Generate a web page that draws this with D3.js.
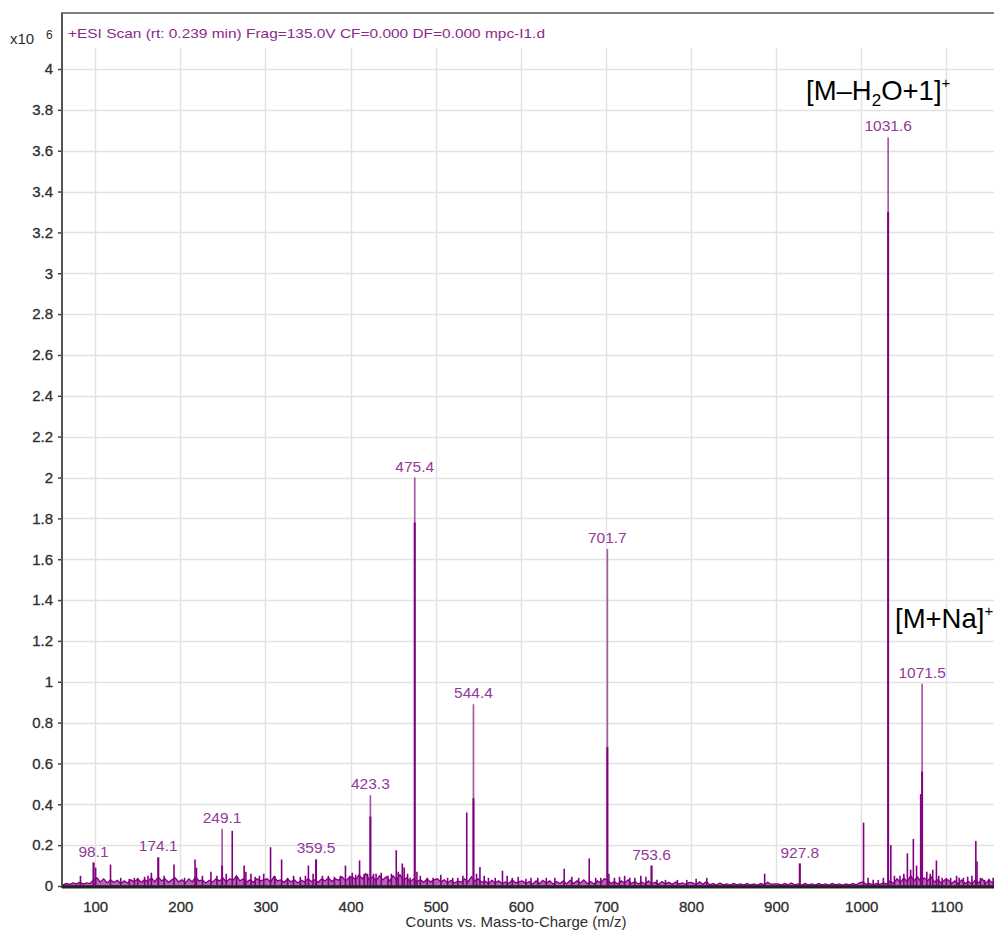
<!DOCTYPE html>
<html>
<head>
<meta charset="utf-8">
<script src="https://cdn.jsdelivr.net/npm/d3@7"></script>
<style>
  body { margin: 0; background: #fff; }
  svg text { font-family: "Liberation Sans", Arial, sans-serif; }
</style>
</head>
<body>
<svg id="chart" width="994" height="931"></svg>
<script>
// ---- Spectrum data (counts in units of 10^6) ----
// Labelled peaks: apex and the height of the dense (profile) core of each peak
const labelMz     = [98.1, 174.1, 249.1, 359.5, 423.3, 475.4, 544.4, 701.7, 753.6, 927.8, 1031.6, 1071.5];
const labelCounts = [0.115, 0.14, 0.28, 0.13, 0.445, 2.0, 0.89, 1.65, 0.10, 0.11, 3.665, 0.99];
const labelCore   = [0.115, 0.14, 0.10, 0.13, 0.34, 1.78, 0.43, 0.68, 0.10, 0.11, 3.3, 0.56];

// Unlabelled peaks: [m/z, counts]
const minorPeaks = [
  [82.7, 0.05], [100.5, 0.09], [118, 0.105], [130, 0.04], [140, 0.035], [146, 0.04], [150, 0.04],
  [158, 0.045], [162, 0.05], [166, 0.065], [181, 0.05], [192.6, 0.105], [205, 0.04], [217.3, 0.13],
  [219, 0.09], [226, 0.05], [236, 0.07], [243, 0.05], [254, 0.06], [261, 0.27], [266, 0.05],
  [275, 0.10], [277, 0.07], [283, 0.06], [288, 0.045], [293, 0.05], [298, 0.06], [306, 0.19],
  [311, 0.05], [319, 0.13], [326, 0.04], [333, 0.05], [341, 0.045], [347, 0.05], [350.5, 0.10],
  [356, 0.06], [367, 0.05], [374, 0.05], [381, 0.045], [388, 0.05], [394, 0.10], [399, 0.05],
  [402, 0.065], [406, 0.055], [410.6, 0.125], [416, 0.06], [420, 0.06], [427, 0.06], [430, 0.06],
  [436, 0.065], [444, 0.05], [448, 0.06], [453.7, 0.175], [456, 0.07], [460.8, 0.11], [463, 0.09],
  [467, 0.06], [470, 0.04], [478, 0.07], [482, 0.05], [490, 0.04], [497, 0.04], [506, 0.055],
  [514, 0.04], [520, 0.04], [526, 0.04], [532, 0.05], [536.5, 0.36], [548, 0.06], [552, 0.093],
  [557, 0.05], [562, 0.04], [570, 0.04], [578.5, 0.075], [584, 0.05], [590, 0.04], [597, 0.045],
  [606, 0.035], [612, 0.04], [620, 0.04], [630, 0.04], [640, 0.04], [651, 0.085], [660, 0.045],
  [668, 0.04], [680.4, 0.135], [688, 0.04], [694, 0.04], [703.5, 0.06], [710, 0.04], [716, 0.045],
  [722, 0.05], [728, 0.04], [734, 0.04], [741, 0.05], [747, 0.045], [760, 0.03], [770, 0.03],
  [784, 0.03], [795, 0.03], [806, 0.035], [818.5, 0.04], [886.5, 0.06], [1002.7, 0.31], [1008, 0.04],
  [1014, 0.03], [1020, 0.03], [1026, 0.04], [1034.7, 0.20], [1039, 0.05], [1045.5, 0.05], [1050, 0.06],
  [1054.2, 0.16], [1058, 0.08], [1061.2, 0.23], [1065, 0.10], [1069.8, 0.45], [1077, 0.07],
  [1081, 0.06], [1084, 0.08], [1088.3, 0.125], [1091, 0.05], [1095, 0.04], [1100, 0.04], [1105, 0.04],
  [1112, 0.05], [1115, 0.04], [1120, 0.04], [1125, 0.045], [1130, 0.05], [1134.6, 0.22], [1136, 0.12],
  [1140, 0.04], [1145, 0.03], [1150, 0.035], [1155, 0.04]
];

// Noise floor, sampled every 4 m/z starting at m/z 62
const floorStart = 62;
const floorStep = 4;
const floorCounts = [
  0.006,0.012,0.008,0.015,0.01,0.018,0.01,0.015,0.012,0.03,
  0.04,0.02,0.035,0.015,0.03,0.018,0.028,0.012,0.025,0.015,0.03,0.02,0.035,0.018,0.03,0.022,0.04,0.02,0.045,0.025,0.035,0.018,0.03,0.04,0.02,
  0.03,0.015,0.035,0.02,0.045,0.025,0.03,0.015,0.028,0.02,0.035,0.025,0.04,0.02,0.035,0.028,0.05,0.025,0.035,0.02,0.03,0.018,0.035,0.025,0.03,
  0.035,0.02,0.045,0.025,0.03,0.018,0.035,0.02,0.03,0.015,0.028,0.02,0.035,0.022,0.03,0.018,0.035,0.025,0.04,0.022,0.035,0.028,0.045,0.025,0.04,
  0.045,0.03,0.055,0.035,0.06,0.03,0.045,0.025,0.05,0.03,0.045,0.025,0.05,0.03,0.055,0.03,0.04,0.02,0.035,0.022,0.03,0.018,0.035,0.02,0.03,
  0.035,0.02,0.03,0.015,0.028,0.015,0.025,0.018,0.035,0.02,0.045,0.025,0.035,0.018,0.025,0.012,0.028,0.015,0.025,0.012,0.02,0.012,0.03,0.015,0.022,
  0.025,0.012,0.022,0.01,0.025,0.012,0.028,0.015,0.025,0.01,0.022,0.012,0.025,0.01,0.028,0.012,0.025,0.015,0.03,0.012,0.022,0.01,0.025,0.015,0.035,
  0.03,0.012,0.022,0.01,0.025,0.015,0.03,0.012,0.022,0.01,0.02,0.01,0.025,0.01,0.018,0.008,0.022,0.01,0.018,0.008,0.02,0.01,0.015,0.008,0.018,
  0.015,0.006,0.02,0.008,0.022,0.006,0.012,0.005,0.015,0.006,0.01,0.004,0.012,0.006,0.01,0.004,0.012,0.005,0.01,0.004,0.012,0.006,0.018,0.008,0.01,
  0.01,0.005,0.012,0.006,0.015,0.005,0.01,0.004,0.012,0.006,0.01,0.004,0.012,0.006,0.01,0.004,0.012,0.006,0.01,0.004,0.01,0.005,0.012,0.006,0.015,
  0.02,0.008,0.012,0.006,0.012,0.008,0.015,0.01,0.025,0.012,0.035,0.018,0.04,0.02,0.05,0.025,0.045,0.02,0.04,0.025,0.045,0.02,0.03,0.015,0.03,
  0.03,0.012,0.025,0.01,0.03,0.012,0.022,0.01,0.03,0.015,0.035,0.012,0.03,0.015,0.035
];

// Axis ticks
const xTicks = [100, 200, 300, 400, 500, 600, 700, 800, 900, 1000, 1100];
const yTicks = [0, 0.2, 0.4, 0.6, 0.8, 1, 1.2, 1.4, 1.6, 1.8, 2, 2.2, 2.4, 2.6, 2.8, 3, 3.2, 3.4, 3.6, 3.8, 4];

// Ion annotations
const ionNotes = [
  { base: "[M\u2013H", sub: "2", rest: "O+1]", sup: "+", x: 806, y: 100 },
  { base: "[M+Na]", sub: "", rest: "", sup: "+", x: 895, y: 628 }
];

// ---- Layout ----
const svg = d3.select("#chart");
const plotLeft = 62, plotRight = 1000, plotTop = 13, plotBottom = 886;
const purple = "#800080";
const lightPurple = "#a65aa6";
const inkGray = "#2e2e2e";

const x = d3.scaleLinear().domain([61, 1163]).range([plotLeft, plotRight]);
const y = d3.scaleLinear().domain([0, 4]).range([plotBottom, 69]);

svg.append("defs").append("clipPath").attr("id", "plotClip")
  .append("rect").attr("x", plotLeft).attr("y", plotTop)
  .attr("width", plotRight - plotLeft).attr("height", plotBottom - plotTop + 1);

// Grid
const grid = svg.append("g");
grid.selectAll("line.v").data(xTicks).join("line")
  .attr("class", "v")
  .attr("x1", d => Math.round(x(d)) + 0.5).attr("x2", d => Math.round(x(d)) + 0.5)
  .attr("y1", 48).attr("y2", plotBottom)
  .attr("stroke", "#e2e2e2").attr("stroke-width", 1.4);
grid.selectAll("line.h").data(yTicks.slice(1)).join("line")
  .attr("class", "h")
  .attr("x1", plotLeft).attr("x2", plotRight)
  .attr("y1", d => Math.round(y(d)) + 0.5).attr("y2", d => Math.round(y(d)) + 0.5)
  .attr("stroke", "#e2e2e2").attr("stroke-width", 1.4);

const plot = svg.append("g").attr("clip-path", "url(#plotClip)");

// Noise floor
const floorPts = floorCounts.map((c, i) => [floorStart + i * floorStep, c]);
plot.append("path")
  .datum(floorPts)
  .attr("d", d3.area().x(d => x(d[0])).y0(y(0)).y1(d => y(d[1])))
  .attr("fill", purple).attr("fill-opacity", 0.6)
  .attr("stroke", purple).attr("stroke-width", 1.3).attr("stroke-linejoin", "miter");

// Unlabelled peaks
plot.selectAll("line.minor").data(minorPeaks).join("line")
  .attr("class", "minor")
  .attr("x1", d => x(d[0])).attr("x2", d => x(d[0]))
  .attr("y1", y(0)).attr("y2", d => y(d[1]))
  .attr("stroke", purple).attr("stroke-width", 1.6);

// Labelled peaks: light apex line with a darker core
const major = labelMz.map((m, i) => ({ mz: m, c: labelCounts[i], core: labelCore[i] }));
plot.selectAll("line.apex").data(major).join("line")
  .attr("class", "apex")
  .attr("x1", d => x(d.mz)).attr("x2", d => x(d.mz))
  .attr("y1", y(0)).attr("y2", d => y(d.c))
  .attr("stroke", lightPurple).attr("stroke-width", 1.7);
plot.selectAll("line.core").data(major).join("line")
  .attr("class", "core")
  .attr("x1", d => x(d.mz)).attr("x2", d => x(d.mz))
  .attr("y1", y(0)).attr("y2", d => y(d.core))
  .attr("stroke", purple).attr("stroke-width", 2);

// Peak labels
svg.selectAll("text.plabel").data(major).join("text")
  .attr("class", "plabel")
  .attr("x", d => x(d.mz)).attr("y", d => y(d.c) - 6)
  .attr("text-anchor", "middle")
  .attr("font-size", 15.5)
  .attr("fill", "#93399a")
  .text(d => d.mz.toFixed(1));

// Axes
const yAxis = d3.axisLeft(y).tickValues(yTicks).tickSize(4).tickPadding(5).tickFormat(d3.format("~g"));
const gy = svg.append("g").attr("transform", `translate(${plotLeft},0)`).call(yAxis);
gy.select(".domain").remove();
gy.selectAll(".tick line").attr("stroke", "#444").attr("stroke-width", 1.5);
gy.selectAll(".tick text").attr("font-size", 15).attr("fill", inkGray)
  .attr("stroke", inkGray).attr("stroke-width", 0.3)
  .attr("font-family", "'Liberation Sans', Arial, sans-serif");

const xAxis = d3.axisBottom(x).tickValues(xTicks).tickSize(0).tickPadding(15).tickFormat(d3.format("d"));
const gx = svg.append("g").attr("transform", `translate(0,${plotBottom})`).call(xAxis);
gx.select(".domain").remove();
gx.selectAll(".tick text").attr("font-size", 15).attr("fill", inkGray)
  .attr("stroke", inkGray).attr("stroke-width", 0.3)
  .attr("font-family", "'Liberation Sans', Arial, sans-serif");

// Frame
svg.append("line").attr("x1", plotLeft).attr("x2", plotLeft).attr("y1", plotTop).attr("y2", plotBottom + 2)
  .attr("stroke", "#555").attr("stroke-width", 2);
svg.append("line").attr("x1", plotLeft - 1).attr("x2", 994).attr("y1", plotTop).attr("y2", plotTop)
  .attr("stroke", "#555").attr("stroke-width", 1.5);
svg.append("line").attr("x1", plotLeft).attr("x2", 994).attr("y1", plotBottom + 1).attr("y2", plotBottom + 1)
  .attr("stroke", "#222").attr("stroke-width", 3);

// Titles
svg.append("text").attr("x", 68).attr("y", 38)
  .attr("font-size", 13).attr("fill", "#8a2a8a")
  .attr("textLength", 477).attr("lengthAdjust", "spacingAndGlyphs")
  .text("+ESI Scan (rt: 0.239 min) Frag=135.0V CF=0.000 DF=0.000 mpc-I1.d");

const expo = svg.append("g").attr("fill", inkGray);
expo.append("text").attr("x", 10).attr("y", 44).attr("font-size", 15).text("x10");
expo.append("text").attr("x", 46).attr("y", 39).attr("font-size", 12).text("6");

svg.append("text").attr("x", 516).attr("y", 927).attr("text-anchor", "middle")
  .attr("font-size", 15).attr("fill", inkGray)
  .text("Counts vs. Mass-to-Charge (m/z)");

// Ion annotations
ionNotes.forEach(n => {
  const t = svg.append("text").attr("x", n.x).attr("y", n.y).attr("font-size", 27.5).attr("fill", "#000");
  t.append("tspan").text(n.base);
  if (n.sub) t.append("tspan").attr("font-size", 17).attr("dy", 6).text(n.sub);
  if (n.rest) t.append("tspan").attr("dy", -6).text(n.rest);
  t.append("tspan").attr("font-size", 15).attr("dy", -12).text(n.sup);
});
</script>
</body>
</html>
